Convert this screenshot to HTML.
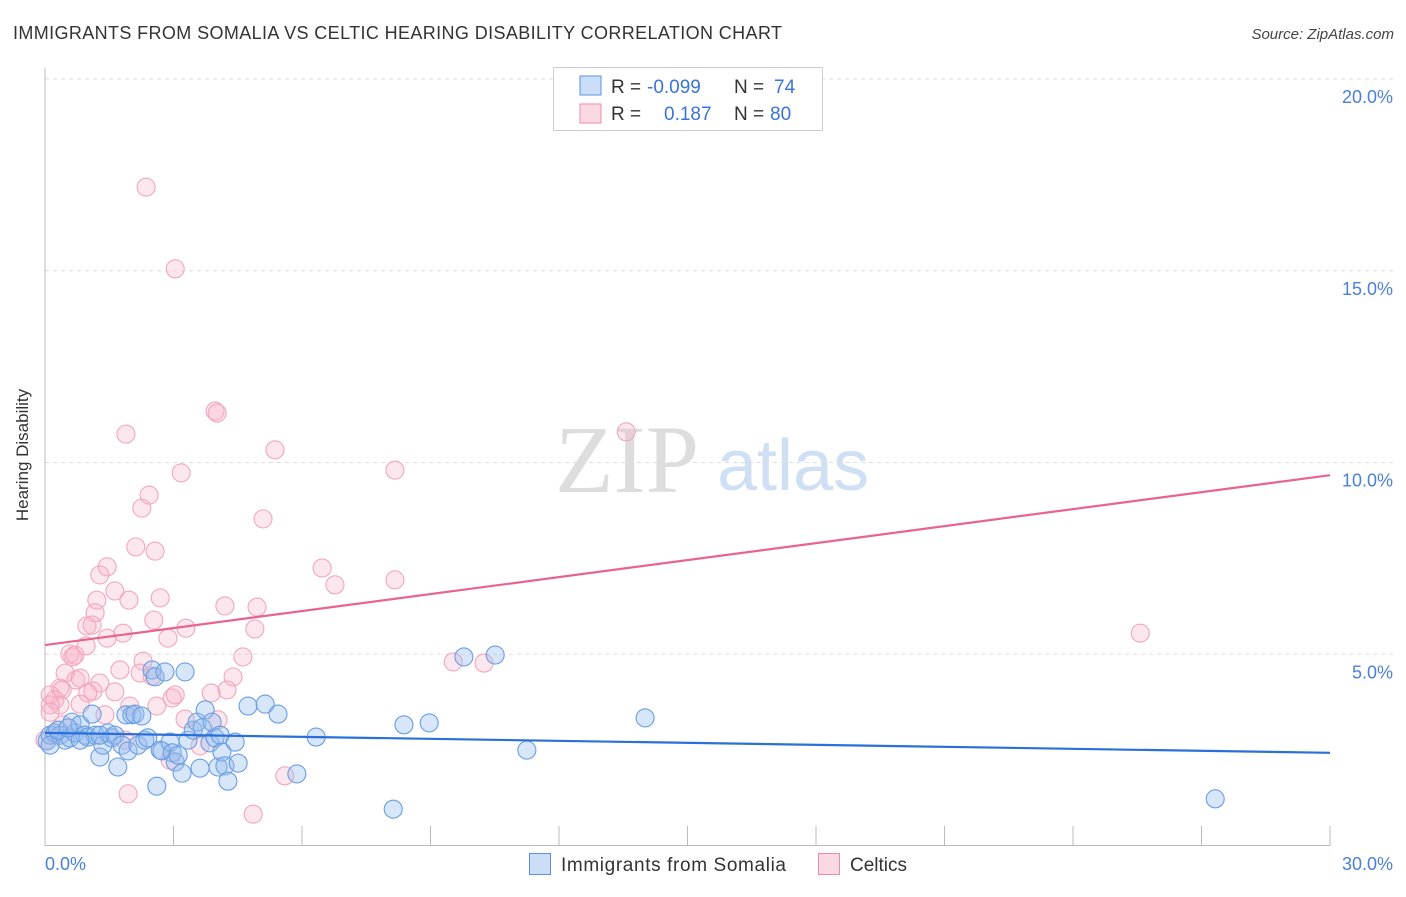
<!DOCTYPE html>
<html><head><meta charset="utf-8"><style>
body{margin:0;background:#fff;font-family:"Liberation Sans",sans-serif}
</style></head><body>
<svg width="1406" height="892" xmlns="http://www.w3.org/2000/svg" style="font-family:'Liberation Sans',sans-serif">
<text x="13" y="39" font-size="18" fill="#333" textLength="769" lengthAdjust="spacing">IMMIGRANTS FROM SOMALIA VS CELTIC HEARING DISABILITY CORRELATION CHART</text>
<text x="1394" y="39" font-size="15" fill="#444" font-style="italic" text-anchor="end">Source: ZipAtlas.com</text>
<text x="555" y="492" font-size="96" fill="#ddd" font-family="'Liberation Serif',serif">ZIP</text>
<text x="717" y="490" font-size="72" fill="#cfe0f5">atlas</text>
<g id="grid"></g>
<line x1="45" y1="68" x2="45" y2="846" stroke="#bbb"/>
<line x1="45" y1="845.5" x2="1330" y2="845.5" stroke="#bbb"/>
<g id="xticks"></g>
<text x="28" y="455" font-size="17" fill="#333" text-anchor="middle" transform="rotate(-90 28 455)">Hearing Disability</text>
<text x="45" y="870" font-size="18" fill="#4a80d8">0.0%</text>
<text x="1393" y="870" font-size="18" fill="#4a80d8" text-anchor="end">30.0%</text>
<g id="pts"></g>
<g id="lines"></g>
<g>
<rect x="553.5" y="67.5" width="269" height="63" fill="#fff" stroke="#ccc"/>
<rect x="580" y="76" width="21" height="19" fill="rgba(150,190,240,0.5)" stroke="#5b93e0"/>
<rect x="580" y="104" width="21" height="19" fill="rgba(248,180,200,0.5)" stroke="#f08aa8"/>
<text font-size="19" fill="#333"><tspan x="611" y="93">R = </tspan><tspan x="647" fill="#3a74d8">-0.099</tspan><tspan x="734">N = </tspan><tspan x="774" fill="#3a74d8">74</tspan></text>
<text font-size="19" fill="#333"><tspan x="611" y="120">R = </tspan><tspan x="664" fill="#3a74d8">0.187</tspan><tspan x="734">N = </tspan><tspan x="770" fill="#3a74d8">80</tspan></text>
</g>
<g>
<rect x="529.5" y="853.5" width="21" height="21" fill="rgba(150,190,240,0.5)" stroke="#5b93e0"/>
<text x="561" y="871" font-size="19" fill="#333" textLength="225" lengthAdjust="spacing">Immigrants from Somalia</text>
<rect x="818.5" y="853.5" width="21" height="21" fill="rgba(248,180,200,0.5)" stroke="#f08aa8"/>
<text x="850" y="871" font-size="19" fill="#333">Celtics</text>
</g>
</svg>
<script>
const yTicks=[5,10,15,20];
const xTicks=[0,3,6,9,12,15,18,21,24,27,30];
const blueX=[0.05,0.12,0.23,0.35,0.47,0.58,0.63,0.70,0.82,0.93,1.00,1.10,1.17,1.28,1.35,1.47,1.56,1.63,1.70,1.80,1.89,1.94,2.03,2.10,2.17,2.26,2.33,2.40,2.50,2.57,2.61,2.69,2.73,2.80,2.92,2.97,3.04,3.11,3.20,3.27,3.34,3.46,3.55,3.62,3.67,3.74,3.85,3.90,3.97,4.04,4.09,4.13,4.20,4.27,4.44,4.51,4.74,5.14,5.44,5.88,6.33,8.13,8.38,8.97,9.78,10.51,11.25,14.01,27.32,0.12,0.30,0.54,0.82,1.28];
const blueY=[2.74,2.89,2.95,2.89,2.76,2.82,3.23,2.95,3.16,2.89,2.84,3.44,2.89,2.32,2.63,2.95,2.82,2.89,2.06,2.63,3.42,2.48,3.42,3.44,2.63,3.39,2.76,2.82,4.59,4.41,1.56,2.50,2.48,4.54,2.71,2.43,2.19,2.37,1.90,4.54,2.76,3.02,3.23,2.03,3.08,3.55,2.69,3.23,2.82,2.06,2.89,2.45,2.09,1.69,2.71,2.16,3.65,3.70,3.44,1.88,2.84,0.96,3.16,3.21,4.93,4.98,2.50,3.34,1.23,2.63,3.02,3.08,2.76,2.89];
const pinkX=[2.36,3.04,3.97,4.02,1.89,3.18,5.37,8.17,13.57,2.43,2.26,5.09,2.12,2.57,1.45,1.28,6.47,6.77,8.17,1.63,2.69,1.21,1.96,1.17,4.20,4.95,2.54,0.98,1.10,1.82,2.87,3.29,1.45,4.90,0.96,0.58,0.65,0.70,4.62,2.29,9.53,10.25,25.57,0.47,0.35,0.72,0.82,1.75,2.22,2.50,1.28,1.12,1.00,1.63,0.12,0.40,0.23,0.35,0.12,0.82,2.97,3.04,3.88,4.25,4.39,2.61,0.12,1.40,1.98,3.27,4.04,3.62,1.87,2.92,1.94,4.86,5.60,0.23,0.00,0.42];
const pinkY=[17.18,15.05,11.34,11.29,10.74,9.73,10.33,9.80,10.80,9.15,8.81,8.53,7.80,7.69,7.28,7.07,7.25,6.81,6.94,6.65,6.47,6.41,6.41,6.08,6.26,6.23,5.89,5.74,5.76,5.55,5.42,5.68,5.42,5.66,5.22,5.01,4.93,4.98,4.93,4.82,4.80,4.77,5.55,4.51,4.12,4.33,4.38,4.59,4.51,4.43,4.25,4.04,3.99,4.02,3.94,4.07,3.81,3.68,3.68,3.70,3.86,3.94,3.99,4.07,4.41,3.65,3.49,3.42,3.65,3.31,3.29,2.61,2.76,2.24,1.36,0.83,1.83,2.89,2.76,3.16];
const blueTrend=[2.95,2.43];
const pinkTrend=[5.24,9.67];
const NS='http://www.w3.org/2000/svg';
const sx=v=>45+v*(1285/30);
const sy=v=>846-v*38.35;
function mk(t,a,p){const e=document.createElementNS(NS,t);for(const k in a)e.setAttribute(k,a[k]);p.appendChild(e);return e;}
const grid=document.getElementById('grid');
yTicks.forEach(v=>{
 const l=mk('line',{x1:45,x2:1394,y1:sy(v),y2:sy(v),stroke:'#ddd','stroke-dasharray':'4,4'},grid);
 
 
 const t=mk('text',{x:1393,y:sy(v)+24,'font-size':18,fill:'#4a80d8','text-anchor':'end'},grid);
 t.textContent=v.toFixed(1)+'%';
 
 
});
const xt=document.getElementById('xticks');
xTicks.forEach(v=>{
 const l=mk('line',{x1:sx(v),x2:sx(v),y1:826,y2:846,stroke:'#bbb'},xt);
 
 
});
const pts=document.getElementById('pts');
pinkX.forEach((x,i)=>{
 const c=mk('circle',{cx:sx(x),cy:sy(pinkY[i]),r:9,fill:'rgba(248,175,198,0.3)',stroke:'#f2a6bd','stroke-width':1.1},pts);
 
 
});
blueX.forEach((x,i)=>{
 const c=mk('circle',{cx:sx(x),cy:sy(blueY[i]),r:9,fill:'rgba(150,190,240,0.38)',stroke:'#6a9de2','stroke-width':1.1},pts);
 
 
});
const lines=document.getElementById('lines');
const bl=mk('line',{x1:sx(0),y1:sy(blueTrend[0]),x2:sx(30),y2:sy(blueTrend[1]),stroke:'#2a6fdb','stroke-width':2.2},lines);


const pl=mk('line',{x1:sx(0),y1:sy(pinkTrend[0]),x2:sx(30),y2:sy(pinkTrend[1]),stroke:'#e8648f','stroke-width':2.2},lines);


</script>
</body></html>
